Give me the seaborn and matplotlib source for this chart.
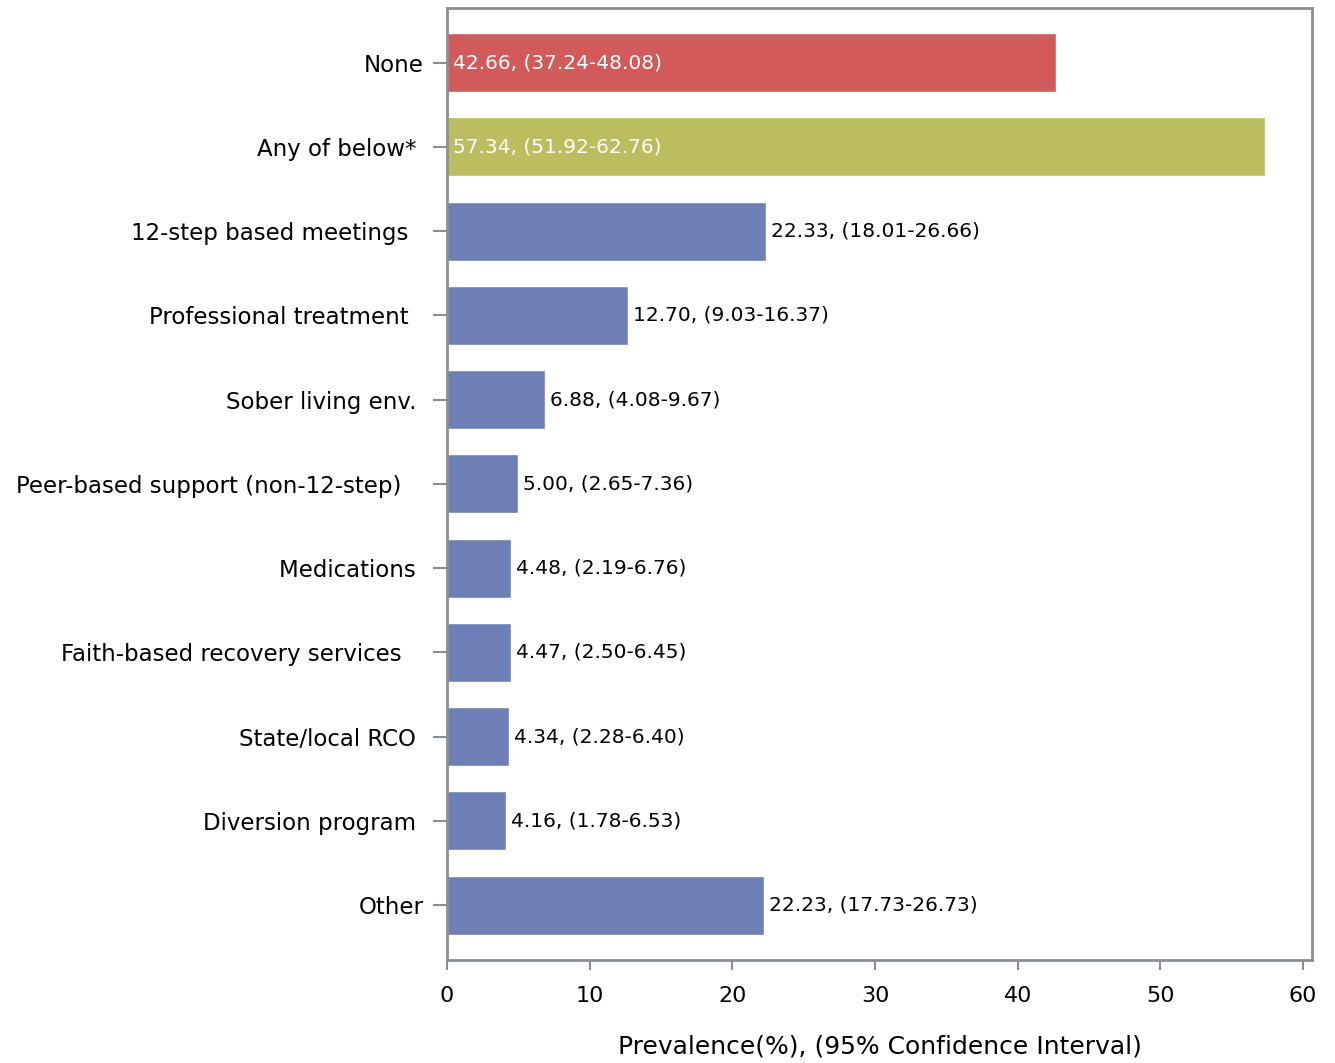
import numpy as np
import pandas as pd
import matplotlib
matplotlib.use("Agg")
import matplotlib.pyplot as plt
import seaborn as sns

# values
categories = ["None", "Any of below* ", "12-step based meetings  ", "Professional treatment  ",
              "Sober living env. ", "Peer-based support (non-12-step)   ", "Medications ",
              "Faith-based recovery services   ", "State/local RCO ", "Diversion program ", "Other"]
prevalence = [42.66, 57.34, 22.33, 12.70, 6.88, 5.00, 4.48, 4.47, 4.34, 4.16, 22.23]
ci_low = [37.24, 51.92, 18.01, 9.03, 4.08, 2.65, 2.19, 2.50, 2.28, 1.78, 17.73]
ci_high = [48.08, 62.76, 26.66, 16.37, 9.67, 7.36, 6.76, 6.45, 6.40, 6.53, 26.73]
bar_colors = ["#D15B5B", "#BBBD5E"] + ["#6E7FB5"] * 9

df = pd.DataFrame({"cat": categories, "val": prevalence})

sns.set_style("white")
plt.rcParams['font.family'] = ['DejaVu Sans']
gray = "#8A8E92"

fig = plt.figure(figsize=(13.35, 10.63), dpi=100)
ax = fig.add_axes([0.3348, 0.0969, 0.6480, 0.8956])

sns.barplot(data=df, x="val", y="cat", hue="cat", palette=bar_colors, legend=False,
            orient="h", width=0.7, saturation=1, ax=ax)

for i, (v, lo, hi) in enumerate(zip(prevalence, ci_low, ci_high)):
    label = f"{v:.2f}, ({lo:.2f}-{hi:.2f})"
    if i < 2:
        ax.text(0.4, i, label, color="white", va="center", ha="left", fontsize=14.5)
    else:
        ax.text(v + 0.35, i, label, color="black", va="center", ha="left", fontsize=14.5)

ax.set_xlim(0, 60.63)
ax.set_ylim(10.65, -0.65)
ax.set_xticks([0, 10, 20, 30, 40, 50, 60])
ax.set_xlabel("Prevalence(%), (95% Confidence Interval)", fontsize=18, labelpad=20, color="black")
ax.set_ylabel("")
ax.tick_params(axis="x", length=7, width=1.5, color=gray, labelsize=16, pad=12,
               bottom=True, labelcolor="black")
ax.tick_params(axis="y", length=10, width=1.5, color=gray, labelsize=16.5, pad=7,
               left=True, labelcolor="black")
for s in ax.spines.values():
    s.set_color(gray)
    s.set_linewidth(2)

fig.savefig("out.png", dpi=100)
